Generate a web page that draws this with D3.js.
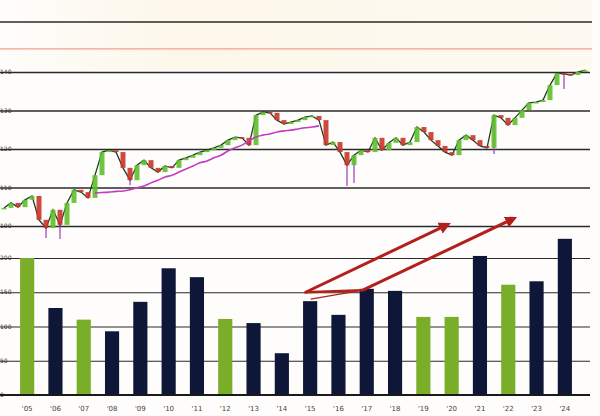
<!DOCTYPE html>
<html>
<head>
<meta charset="utf-8">
<script src="https://cdn.jsdelivr.net/npm/d3@7"></script>
<style>
  body { margin: 0; background: #fefdfb; }
  svg { display: block; font-family: "DejaVu Sans", sans-serif; }
</style>
</head>
<body>
<script>
// price panel (top): closing values
var closes = [104.7, 106.0, 104.9, 106.8, 107.8, 101.6, 99.5, 104.2, 100.3, 106.0,
  109.4, 108.8, 107.3, 113.2, 119.2, 119.7, 119.2, 115.1, 111.9, 115.8,
  117.1, 115.1, 114.0, 115.6, 115.1, 117.1, 117.7, 118.4, 119.2, 119.7,
  120.3, 121.0, 122.3, 123.1, 122.9, 121.0, 128.8, 129.6, 129.4, 127.5,
  126.5, 127.0, 127.5, 128.3, 128.6, 127.5, 121.0, 121.8, 119.2, 115.8,
  118.4, 119.7, 119.2, 122.9, 119.7, 121.6, 122.9, 121.0, 121.8, 125.7,
  124.4, 122.3, 120.8, 119.2, 118.4, 122.3, 123.6, 122.3, 120.8, 120.3,
  128.8, 128.1, 126.2, 128.1, 130.1, 132.0, 132.2, 132.7, 136.6, 139.7,
  139.5, 139.2, 140.0, 140.5];
// moving average, starts at point 13
var maStart = 13;
var movingAvg = [108.6, 108.7, 108.8, 109.0, 109.1, 109.4, 109.9, 110.4, 111.2, 111.9,
  112.7, 113.2, 114.0, 114.8, 115.6, 116.4, 116.9, 117.7, 118.4, 119.5,
  120.3, 121.0, 122.1, 123.1, 123.6, 123.9, 124.4, 124.7, 124.9, 125.2,
  125.5, 125.7, 126.0];
// long wicks
var spikes = [{i: 6, low: 96.9}, {i: 8, low: 96.6}, {i: 18, low: 110.6}, {i: 49, low: 110.4},
  {i: 50, low: 111.2}, {i: 70, low: 118.7}, {i: 80, low: 135.6}];
var priceTicks = [100, 110, 120, 130, 140];
var refLevels = [{v: 153, c: "#2a2a2a"}, {v: 146, c: "#f0a08a"}];

// bar panel (bottom)
var barLabels = ["'05", "'06", "'07", "'08", "'09", "'10", "'11", "'12", "'13", "'14",
  "'15", "'16", "'17", "'18", "'19", "'20", "'21", "'22", "'23", "'24"];
var barValues = [200, 127, 110, 93, 136, 185, 172, 111, 105, 61,
  137, 117, 155, 152, 114, 114, 203, 161, 166, 228];
var barGreen = [1, 0, 1, 0, 0, 0, 0, 1, 0, 0, 0, 0, 0, 0, 1, 1, 0, 1, 0, 0];
var barTicks = [0, 50, 100, 150, 200];
// red arrows, [from index, from value, to index, to value]
var arrows = [[9.84, 150, 14.82, 248], [11.86, 153, 17.16, 257]];
var links = [[9.84, 150, 11.86, 153], [10.02, 140, 11.86, 153]];

var W = 600, H = 416;
var svg = d3.select("body").append("svg").attr("width", W).attr("height", H);

var defs = svg.append("defs");
defs.append("marker")
  .attr("id", "head").attr("viewBox", "0 0 10 10")
  .attr("refX", 6).attr("refY", 5)
  .attr("markerWidth", 4).attr("markerHeight", 4)
  .attr("orient", "auto")
  .append("path").attr("d", "M0,0L10,5L0,10z").attr("fill", "#b3201c");

var grad = defs.append("linearGradient").attr("id", "cream");
grad.append("stop").attr("offset", "0").attr("stop-color", "#fdf6e6").attr("stop-opacity", 0);
grad.append("stop").attr("offset", "0.3").attr("stop-color", "#fdf6e6").attr("stop-opacity", 0.8);
grad.append("stop").attr("offset", "1").attr("stop-color", "#fdf6e6").attr("stop-opacity", 0.5);

svg.append("rect").attr("x", 0).attr("y", 0).attr("width", 592).attr("height", 70)
  .attr("fill", "url(#cream)");

// ---- top panel
var x = d3.scaleLinear().domain([0, closes.length - 1]).range([4, 585]);
var y = d3.scaleLinear().domain([100, 140]).range([226, 72]);

svg.selectAll(".ref").data(refLevels).enter().append("line")
  .attr("x1", 0).attr("x2", 592)
  .attr("y1", function(d) { return y(d.v) }).attr("y2", function(d) { return y(d.v) })
  .attr("stroke", function(d) { return d.c }).attr("stroke-width", 1.4);

svg.append("g")
  .call(d3.axisRight(y).tickValues(priceTicks).tickSize(590).tickFormat(""))
  .call(function(g) {
    g.select(".domain").remove();
    g.selectAll("line").attr("stroke", "#2a2a2a").attr("stroke-width", 1.4);
  });

svg.selectAll(".plab").data(priceTicks).enter().append("text")
  .attr("x", 0).attr("y", function(d) { return y(d) + 2 })
  .attr("font-size", 6).attr("fill", "#333")
  .text(function(d) { return d });

svg.selectAll(".spike").data(spikes).enter().append("line")
  .attr("x1", function(d) { return x(d.i) }).attr("x2", function(d) { return x(d.i) })
  .attr("y1", function(d) { return y(closes[d.i]) }).attr("y2", function(d) { return y(d.low) })
  .attr("stroke", "#9a3cc0").attr("stroke-width", 1.2);

svg.append("path")
  .datum(closes)
  .attr("fill", "none")
  .attr("stroke", "#1d3b22")
  .attr("stroke-width", 1.3)
  .attr("d", d3.line().x(function(d, i) { return x(i) }).y(function(d) { return y(d) }));

svg.selectAll(".candle").data(closes).enter().append("rect")
  .attr("x", function(d, i) { return x(i) - 2.5 })
  .attr("width", 5)
  .attr("y", function(d, i) { return y(Math.max(d, i ? closes[i - 1] : d)) })
  .attr("height", function(d, i) { return Math.max(1.5, Math.abs(y(d) - y(i ? closes[i - 1] : d))) })
  .attr("fill", function(d, i) { return (i && d < closes[i - 1]) ? "#c9352b" : "#5fbf2a" })
  .attr("opacity", 0.9);

svg.append("path")
  .datum(movingAvg)
  .attr("fill", "none")
  .attr("stroke", "#c43bc4")
  .attr("stroke-width", 1.6)
  .attr("d", d3.line().curve(d3.curveMonotoneX)
    .x(function(d, i) { return x(i + maStart) }).y(function(d) { return y(d) }));

// ---- bottom panel
var xb = d3.scaleBand().domain(d3.range(barValues.length)).range([13, 579])
  .paddingInner(0.5).paddingOuter(0.25);
var yb = d3.scaleLinear().domain([0, 200]).range([395, 258]);
var xi = d3.scaleLinear().domain([0, barValues.length - 1])
  .range([xb(0) + xb.bandwidth() / 2, xb(barValues.length - 1) + xb.bandwidth() / 2]);

svg.append("g")
  .call(d3.axisRight(yb).tickValues(barTicks.slice(1)).tickSize(590).tickFormat(""))
  .call(function(g) {
    g.select(".domain").remove();
    g.selectAll("line").attr("stroke", "#2a2a2a").attr("stroke-width", 1.1);
  });

svg.selectAll(".blab").data(barTicks).enter().append("text")
  .attr("x", 0).attr("y", function(d) { return yb(d) + 2 })
  .attr("font-size", 6).attr("fill", "#333")
  .text(function(d) { return d });

svg.selectAll(".bar").data(barValues).enter().append("rect")
  .attr("x", function(d, i) { return xb(i) })
  .attr("width", xb.bandwidth())
  .attr("y", function(d) { return yb(d) })
  .attr("height", function(d) { return yb(0) - yb(d) })
  .attr("fill", function(d, i) { return barGreen[i] ? "#7aad28" : "#0e1737" });

svg.append("line").attr("x1", 0).attr("x2", 590)
  .attr("y1", yb(0)).attr("y2", yb(0))
  .attr("stroke", "#1a1a1a").attr("stroke-width", 2);

svg.selectAll(".xlab").data(barLabels).enter().append("text")
  .attr("x", function(d, i) { return xb(i) + xb.bandwidth() / 2 })
  .attr("y", 411)
  .attr("text-anchor", "middle")
  .attr("font-size", 7).attr("fill", "#444")
  .text(function(d) { return d });

svg.selectAll(".link").data(links).enter().append("line")
  .attr("x1", function(d) { return xi(d[0]) }).attr("y1", function(d) { return yb(d[1]) })
  .attr("x2", function(d) { return xi(d[2]) }).attr("y2", function(d) { return yb(d[3]) })
  .attr("stroke", "#b3201c").attr("stroke-width", function(d, i) { return i ? 1.2 : 2.5 });

svg.selectAll(".arrow").data(arrows).enter().append("line")
  .attr("x1", function(d) { return xi(d[0]) }).attr("y1", function(d) { return yb(d[1]) })
  .attr("x2", function(d) { return xi(d[2]) }).attr("y2", function(d) { return yb(d[3]) })
  .attr("stroke", "#b3201c").attr("stroke-width", 3)
  .attr("stroke-linecap", "round")
  .attr("marker-end", "url(#head)");
</script>
</body>
</html>
